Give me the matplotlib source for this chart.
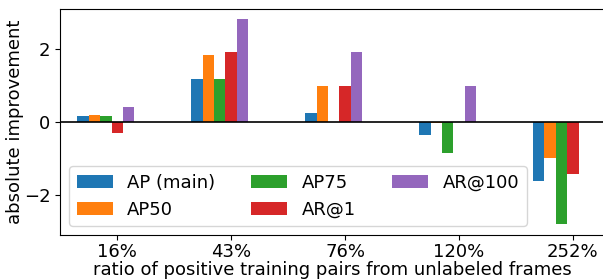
import numpy as np
from matplotlib import pyplot as plt

# ratio groups and series values (absolute improvement)
ratios = ["16%", "43%", "76%", "120%", "252%"]
series = ["AP (main)", "AP50", "AP75", "AR@1", "AR@100"]
ap_main = [0.15, 1.19, 0.25, -0.37, -1.62]
ap50 = [0.19, 1.84, 0.98, -0.04, -1.00]
ap75 = [0.16, 1.19, 0.00, -0.86, -2.80]
ar1 = [-0.31, 1.92, 0.99, 0.00, -1.42]
ar100 = [0.40, 2.82, 1.91, 0.99, 0.00]

values = [ap_main, ap50, ap75, ar1, ar100]

plt.rcParams['font.size'] = 13
fig = plt.figure(figsize=(6.03, 2.8), dpi=100)
# right spine falls just outside the picture, as in the reference
ax = fig.add_axes([0.100, 0.161, 0.903, 0.807])

x = np.arange(len(ratios))
w = 0.1
for i, (name, vals) in enumerate(zip(series, values)):
    ax.bar(x + (i - 3) * w, vals, w, label=name)

ax.axhline(0, color='black', linewidth=1.2)
ax.set_xticks(x)
ax.set_xticklabels(ratios)
ax.tick_params(axis='x', pad=2.5)
ax.set_yticks([-2, 0, 2])
ax.set_xlim(-0.5, 4.28)
ax.set_ylim(-3.1, 3.1)
ax.set_xlabel("ratio of positive training pairs from unlabeled frames", labelpad=0)
ax.set_ylabel("absolute improvement", labelpad=0)
ax.legend(ncol=3, loc='lower left', borderaxespad=0.5)

fig.savefig("out.png", dpi=100)
